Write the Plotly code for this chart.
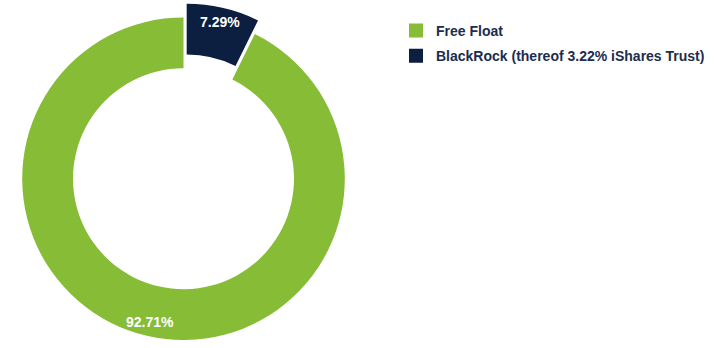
import math
import plotly.graph_objects as go

# ---- data ----
labels = ["Free Float", "BlackRock (thereof 3.22% iShares Trust)"]
values = [92.71, 7.29]
colors = ["#86bc36", "#0c1f40"]

# ---- layout geometry (pixels) ----
W, H = 714, 348
cx, cy = 183.5, 178.7      # donut centre
R = 161.3                  # outer radius
R_IN = 110.5               # inner radius
pull_px = 14.0             # offset of the detached slice
R_LABEL = 147.0            # radius at which the value labels sit
FONT = "Liberation Sans, Arial, sans-serif"
TRANSPARENT = "rgba(0,0,0,0)"

def domain(cx_px, cy_px, r_px):
    return dict(x=[(cx_px - r_px) / W, (cx_px + r_px) / W],
                y=[(H - cy_px - r_px) / H, (H - cy_px + r_px) / H])

free_val, br_val = values[0], values[1]
total = sum(values)
br_mid = 360 * br_val / total / 2                  # clockwise from 12 o'clock
free_mid = 360 * br_val / total + 360 * free_val / total / 2
bx = cx + pull_px * math.sin(math.radians(br_mid))
by = cy - pull_px * math.cos(math.radians(br_mid))

common = dict(sort=False, direction="clockwise", rotation=0,
              hoverinfo="skip", showlegend=False, textinfo="none")

fig = go.Figure()

# main ring: empty slot for BlackRock, then Free Float
fig.add_trace(go.Pie(
    labels=["_slot_a", labels[0]], values=[br_val, free_val],
    marker=dict(colors=[TRANSPARENT, colors[0]], line=dict(width=0)),
    hole=R_IN / R, domain=domain(cx, cy, R), **common,
))

# detached BlackRock slice
fig.add_trace(go.Pie(
    labels=[labels[1], "_slot_b"], values=[br_val, free_val],
    marker=dict(colors=[colors[1], TRANSPARENT], line=dict(width=0)),
    hole=R_IN / R, domain=domain(bx, by, R), **common,
))

# legend entries (tiny pies hidden inside same-coloured areas)
hide_pts = [(40.0, cy), (200.0, 50.0)]
for i in range(len(labels)):
    px_, py_ = hide_pts[i]
    fig.add_trace(go.Pie(
        labels=[labels[i]], values=[values[i]],
        marker=dict(colors=[colors[i]], line=dict(color=colors[i], width=2)),
        textinfo="none", hoverinfo="skip", sort=False,
        legendgroup="g%d" % i, showlegend=True,
        domain=domain(px_, py_, 0.4),
    ))

# value labels
def label_pos(center_x, center_y, ang_deg):
    a = math.radians(ang_deg)
    return (center_x + R_LABEL * math.sin(a), center_y - R_LABEL * math.cos(a))

for (lx, ly), v in [(label_pos(cx, cy, free_mid), free_val),
                    (label_pos(bx, by, br_mid), br_val)]:
    fig.add_annotation(
        x=lx / W, y=1 - ly / H, xref="paper", yref="paper",
        text="%.2f%%" % v, showarrow=False, xanchor="center", yanchor="middle",
        font=dict(color="white", size=14, family=FONT, weight="bold"),
    )

fig.update_layout(
    width=W, height=H,
    margin=dict(l=0, r=0, t=0, b=0),
    paper_bgcolor="white", plot_bgcolor="white",
    showlegend=True,
    legend=dict(
        x=396 / W, xanchor="left", y=(H - 15) / H, yanchor="top",
        font=dict(family=FONT, size=14, color="#1c2d4e", weight="bold"),
        tracegroupgap=4, bgcolor="rgba(0,0,0,0)", borderwidth=0,
    ),
)

fig.write_html("out.html")
